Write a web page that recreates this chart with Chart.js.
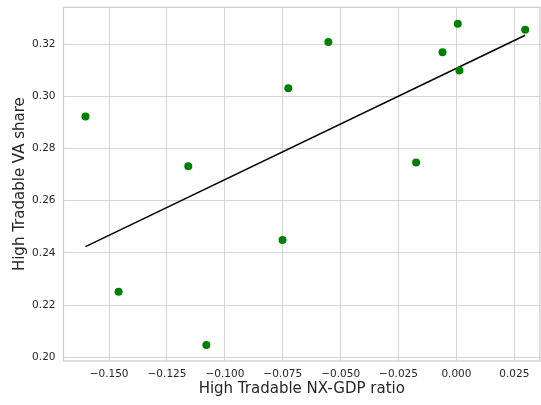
<!DOCTYPE html>
<html lang="en">
<head>
    <meta charset="UTF-8">
    <title>High Tradable VA share vs NX-GDP ratio</title>
    <script src="https://cdn.jsdelivr.net/npm/chart.js"></script>
    <style>
        html, body { margin: 0; padding: 0; background: #ffffff; }
        #chart { display: block; }
    </style>
</head>
<body>
    <canvas id="chart" width="541" height="405"></canvas>
    <script>
        // values
        const nxGdp = [-0.1602, -0.1158, -0.0726, -0.0553, 0.0006, -0.0060, 0.0013, 0.0297, -0.0174, -0.0751, -0.1459, -0.1080];
        const vaShare = [0.2923, 0.2732, 0.3031, 0.3208, 0.3278, 0.3169, 0.3099, 0.3255, 0.2746, 0.2450, 0.2251, 0.2047];

        // fitted line, ends at min and max x
        const fitX = [-0.1602, 0.0297];
        const fitY = [0.2424, 0.3234];

        const xTicks = [-0.150, -0.125, -0.100, -0.075, -0.050, -0.025, 0.000, 0.025];
        const yTicks = [0.20, 0.22, 0.24, 0.26, 0.28, 0.30, 0.32];

        const minus = s => s.replace('-', '\u2212');

        // no extra room for edge labels, the plot area is set by layout padding
        function noPad(scale) {
            scale.paddingTop = 0;
            scale.paddingBottom = 0;
            scale.paddingLeft = 0;
            scale.paddingRight = 0;
        }

        const frame = {
            id: 'frame',
            afterDraw(chart) {
                const a = chart.chartArea;
                const ctx = chart.ctx;
                ctx.save();
                ctx.strokeStyle = '#cccccc';
                ctx.lineWidth = 1.25;
                ctx.strokeRect(a.left, a.top, a.right - a.left, a.bottom - a.top);
                ctx.restore();
            }
        };

        new Chart(document.getElementById('chart').getContext('2d'), {
            type: 'scatter',
            data: {
                datasets: [{
                    data: nxGdp.map((x, i) => ({ x: x, y: vaShare[i] })),
                    backgroundColor: '#008000',
                    borderColor: '#008000',
                    pointRadius: 4,
                    pointBorderWidth: 0,
                    order: 1
                }, {
                    type: 'line',
                    data: fitX.map((x, i) => ({ x: x, y: fitY[i] })),
                    borderColor: '#000000',
                    borderWidth: 1.5,
                    pointRadius: 0,
                    fill: false,
                    order: 2
                }]
            },
            options: {
                responsive: false,
                animation: false,
                layout: { autoPadding: false, padding: { top: 7.3, right: 1, left: 0, bottom: 0 } },
                plugins: { legend: { display: false }, tooltip: { enabled: false } },
                scales: {
                    x: {
                        type: 'linear',
                        min: -0.1697,
                        max: 0.0361,
                        afterFit(scale) { scale.height = 44; noPad(scale); },
                        afterBuildTicks(scale) { scale.ticks = xTicks.map(v => ({ value: v })); },
                        grid: { color: '#d5d5d5', lineWidth: 1, drawTicks: false },
                        border: { display: false },
                        ticks: {
                            padding: 7,
                            color: '#262626',
                            font: { family: 'DejaVu Sans', size: 10.5 },
                            callback: v => minus(v.toFixed(3))
                        },
                        title: {
                            display: true,
                            text: 'High Tradable NX-GDP ratio',
                            color: '#262626',
                            font: { family: 'DejaVu Sans', size: 15 },
                            padding: { top: 0, bottom: 7 }
                        }
                    },
                    y: {
                        type: 'linear',
                        min: 0.1986,
                        max: 0.3341,
                        afterFit(scale) { scale.width = 63.5; noPad(scale); },
                        afterBuildTicks(scale) { scale.ticks = yTicks.map(v => ({ value: v })); },
                        grid: { color: '#d5d5d5', lineWidth: 1, drawTicks: false },
                        border: { display: false },
                        ticks: {
                            padding: 8,
                            color: '#262626',
                            font: { family: 'DejaVu Sans', size: 10.5 },
                            callback: v => v.toFixed(2)
                        },
                        title: {
                            display: true,
                            text: 'High Tradable VA share',
                            color: '#262626',
                            font: { family: 'DejaVu Sans', size: 15 },
                            padding: { top: 11, bottom: 0 }
                        }
                    }
                }
            },
            plugins: [frame]
        });
    </script>
</body>
</html>
